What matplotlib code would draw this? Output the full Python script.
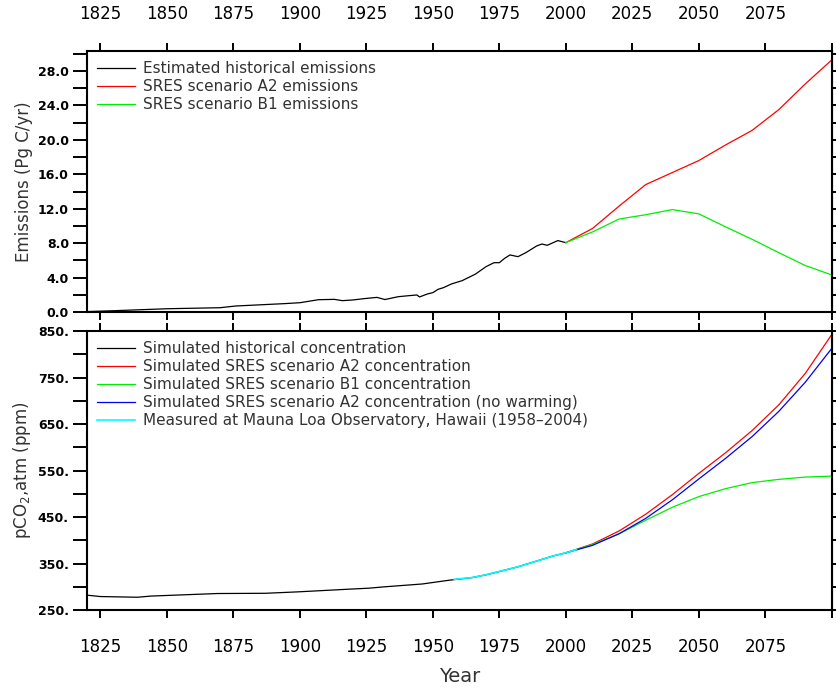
import matplotlib
matplotlib.use("Agg")
import matplotlib.pyplot as plt
from matplotlib.ticker import MultipleLocator, FormatStrFormatter

# top panel: carbon emissions (Pg C/yr)
hist_years = [1820, 1830, 1850, 1870, 1876, 1894, 1900, 1907, 1913, 1916, 1920,
              1924, 1929, 1932, 1937, 1941, 1944, 1945, 1948, 1950, 1952, 1954,
              1957, 1961, 1966, 1970, 1973, 1975, 1977, 1979, 1982, 1985, 1989,
              1991, 1993, 1997, 2000]
hist_emis = [0.05, 0.15, 0.38, 0.5, 0.7, 0.97, 1.08, 1.43, 1.47, 1.32, 1.4,
             1.55, 1.7, 1.45, 1.78, 1.9, 1.98, 1.75, 2.1, 2.25, 2.64, 2.83,
             3.26, 3.64, 4.4, 5.27, 5.73, 5.73, 6.24, 6.63, 6.43, 6.9, 7.67,
             7.9, 7.75, 8.3, 8.06]

scen_years = [2000, 2010, 2020, 2030, 2040, 2050, 2060, 2070, 2080, 2090, 2100]
a2_emis = [8.06, 9.7, 12.3, 14.8, 16.2, 17.6, 19.4, 21.1, 23.5, 26.5, 29.3]
b1_emis = [8.06, 9.3, 10.8, 11.3, 11.9, 11.4, 9.9, 8.45, 6.9, 5.4, 4.3]

# bottom panel: atmospheric pCO2 (ppm)
conc_years = [1820, 1825, 1839, 1844, 1869, 1887, 1899, 1919, 1926, 1932,
              1946, 1956, 1965, 1971, 1982, 1990, 1995, 2000]
conc_hist = [282, 279, 277.5, 280, 285.5, 286, 289, 295, 297, 300,
             306, 314, 320, 327, 343, 357, 366, 373]

a2_conc = [373, 392, 420, 456, 498, 544, 588, 636, 691, 759, 843]
b1_conc = [373, 391, 414, 443, 471, 494, 511, 524, 531, 536, 538]
a2_nowarm_conc = [373, 389, 414, 447, 487, 532, 576, 623, 677, 740, 813]

mlo_years = [1958, 1965, 1970, 1975, 1980, 1985, 1990, 1995, 2000, 2004]
mlo_conc = [316, 320, 326, 333, 340, 348, 357, 366, 373, 380]

xticks = [1825, 1850, 1875, 1900, 1925, 1950, 1975, 2000, 2025, 2050, 2075, 2100]
xlabels = [str(y) for y in xticks[:-1]] + [""]

txt = "#333333"

fig = plt.figure(figsize=(8.37, 6.9), dpi=100)
ax1 = fig.add_axes([0.1039, 0.5478, 0.890, 0.378])
ax2 = fig.add_axes([0.1039, 0.1159, 0.890, 0.4043])

lw = 0.9
ax1.plot(hist_years, hist_emis, color="black", lw=lw, label="Estimated historical emissions")
ax1.plot(scen_years, a2_emis, color="#ff0000", lw=lw, label="SRES scenario A2 emissions")
ax1.plot(scen_years, b1_emis, color="#00ee00", lw=lw, label="SRES scenario B1 emissions")

ax2.plot(conc_years, conc_hist, color="black", lw=lw, label="Simulated historical concentration")
ax2.plot(scen_years, a2_conc, color="#ff0000", lw=lw, label="Simulated SRES scenario A2 concentration")
ax2.plot(scen_years, b1_conc, color="#00ee00", lw=lw, label="Simulated SRES scenario B1 concentration")
ax2.plot(scen_years, a2_nowarm_conc, color="#0000ee", lw=lw,
         label="Simulated SRES scenario A2 concentration (no warming)")
ax2.plot(mlo_years, mlo_conc, color="#00ffff", lw=lw + 0.3,
         label="Measured at Mauna Loa Observatory, Hawaii (1958\u20132004)")

ax1.set_ylim(0, 30.3)
ax2.set_ylim(250, 850)

ax1.set_yticks([0, 4, 8, 12, 16, 20, 24, 28])
ax1.yaxis.set_minor_locator(MultipleLocator(2))
ax1.yaxis.set_major_formatter(FormatStrFormatter("%.1f"))

ax2.set_yticks([250, 350, 450, 550, 650, 750, 850])
ax2.yaxis.set_minor_locator(MultipleLocator(50))
ax2.yaxis.set_major_formatter(FormatStrFormatter("%d."))

for ax in (ax1, ax2):
    ax.set_xlim(1820, 2100)
    ax.set_xticks(xticks)
    ax.set_xticklabels(xlabels)
    for s in ax.spines.values():
        s.set_linewidth(1.5)
    ax.tick_params(axis="x", which="major", direction="out", length=6, width=1.4,
                   top=True, bottom=True, labelsize=12, labelcolor="black", pad=14)
    ax.tick_params(axis="y", which="both", direction="out", length=10, width=1.4,
                   left=True, right=False, labelsize=9, pad=3)
    for lbl in ax.get_yticklabels():
        lbl.set_fontweight("bold")
    ax.legend(loc="upper left", frameon=False, fontsize=11, handlelength=2.5,
              handletextpad=0.5, labelspacing=0.2, borderaxespad=0.25,
              borderpad=0.4, labelcolor=txt)
    # short ticks on the right edge
    rax = ax.secondary_yaxis("right")
    rax.set_yticks(ax.get_yticks(minor=True).tolist() + ax.get_yticks().tolist())
    rax.tick_params(axis="y", direction="out", length=4, width=1.4, labelright=False)

ax1.tick_params(axis="x", labeltop=True, labelbottom=False)
ax2.tick_params(axis="x", labeltop=False, labelbottom=True)

ax1.set_ylabel("Emissions (Pg C/yr)", fontsize=12, color=txt)
ax2.set_ylabel(r"pCO$_2$,atm (ppm)", fontsize=12, color=txt)
ax2.set_xlabel("Year", fontsize=14, color=txt, labelpad=8)
ax1.yaxis.set_label_coords(-0.072, 0.5)
ax2.yaxis.set_label_coords(-0.072, 0.5)

fig.savefig("out.png", dpi=100)
